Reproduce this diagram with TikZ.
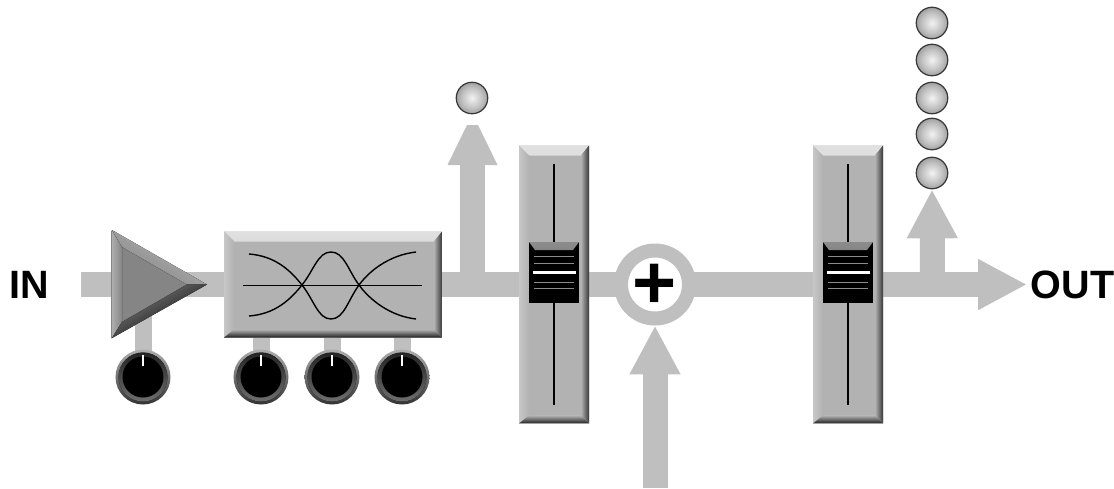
\documentclass[tikz,border=0pt]{standalone}
\usepackage{fontspec}
\setmainfont{Liberation Sans}
\usetikzlibrary{positioning, arrows.meta, shapes.geometric, backgrounds, calc}
\definecolor{barcol}{HTML}{BFBFBF}
\definecolor{panelcol}{HTML}{B2B2B2}
\pgfdeclareradialshading{ledball}{\pgfpoint{0bp}{0bp}}{color(0bp)=(white!95!black); color(17bp)=(white!75!black); color(35bp)=(white!48!black); color(50bp)=(white!48!black)}

\begin{document}
\begin{tikzpicture}[
    x=0.02cm, y=-0.02cm,
    sigbar/.style={draw=barcol, line width=0.5cm},
    sigarrow/.style={sigbar, -{Triangle[length=0.98cm, width=0.95cm]}},
    stembar/.style={draw=barcol, line width=0.34cm},
    panel/.style={
        rectangle,
        fill=panelcol,
        inner sep=0pt,
        path picture={
            \fill[top color=white!88!black, bottom color=panelcol]
                (path picture bounding box.north west) -- (path picture bounding box.north east)
                -- ([xshift=-0.16cm, yshift=-0.2cm]path picture bounding box.north east)
                -- ([xshift=0.2cm, yshift=-0.2cm]path picture bounding box.north west) -- cycle;
            \fill[left color=white!78!black, right color=panelcol]
                (path picture bounding box.north west) -- (path picture bounding box.south west)
                -- ([xshift=0.2cm, yshift=0.16cm]path picture bounding box.south west)
                -- ([xshift=0.2cm, yshift=-0.2cm]path picture bounding box.north west) -- cycle;
            \fill[left color=panelcol, right color=white!22!black]
                (path picture bounding box.north east) -- (path picture bounding box.south east)
                -- ([xshift=-0.16cm, yshift=0.16cm]path picture bounding box.south east)
                -- ([xshift=-0.16cm, yshift=-0.2cm]path picture bounding box.north east) -- cycle;
            \fill[top color=panelcol, bottom color=white!12!black]
                (path picture bounding box.south west) -- (path picture bounding box.south east)
                -- ([xshift=-0.16cm, yshift=0.16cm]path picture bounding box.south east)
                -- ([xshift=0.2cm, yshift=0.16cm]path picture bounding box.south west) -- cycle;
        }
    },
    filterbox/.style={panel, minimum width=4.36cm, minimum height=2.12cm},
    fader/.style={panel, minimum width=1.4cm, minimum height=5.56cm},
    faderslot/.style={line width=0.9pt, black},
    fadercap/.style={
        rectangle,
        fill=black,
        inner sep=0pt,
        minimum width=1cm,
        minimum height=1.22cm,
        path picture={
            \fill[top color=white!55!black, bottom color=white!35!black]
                (path picture bounding box.north west) -- (path picture bounding box.north east)
                -- ([xshift=-0.12cm, yshift=-0.16cm]path picture bounding box.north east)
                -- ([xshift=0.12cm, yshift=-0.16cm]path picture bounding box.north west) -- cycle;
            \foreach \offs in {-0.31, -0.19, 0.19, 0.33}
                \draw[white!55!black, line width=0.5pt]
                    ([xshift=-0.4cm, yshift=\offs cm]path picture bounding box.center) -- ++(0.8cm, 0);
            \draw[white, line width=1.2pt]
                ([xshift=-0.43cm]path picture bounding box.center) -- ++(0.86cm, 0);
        }
    },
    knob/.style={
        circle,
        inner sep=0pt,
        minimum size=1.1cm,
        top color=white!68!black,
        bottom color=white!20!black,
        path picture={
            \fill[top color=white!12!black, bottom color=white!45!black]
                (path picture bounding box.center) circle (0.49cm);
            \fill[black] (path picture bounding box.center) circle (0.41cm);
            \draw[white, line width=1.1pt]
                ([yshift=0.44cm]path picture bounding box.center) -- ++(0, -0.21cm);
        }
    },
    led/.style={
        circle,
        draw=white!22!black,
        line width=0.7pt,
        shading=ledball,
        inner sep=0pt,
        minimum size=0.63cm
    },
    adder/.style={
        circle,
        draw=barcol,
        fill=white,
        line width=0.28cm,
        minimum size=1.36cm,
        inner sep=0pt
    },
    eqcurve/.style={line width=0.8pt, black},
    portlabel/.style={font=\fontsize{22.5}{24}\selectfont\bfseries, inner xsep=2pt}
]

\useasboundingbox (0,0) rectangle (1114,488);

\node[portlabel] (inlabel) at (29, 285) {IN};
\node[portlabel, anchor=west] (outlabel) at (1027, 284.5) {OUT};
\coordinate (inend) at (81, 284.5);
\coordinate (tapsend) at (472.5, 284.5);
\coordinate (sendbase) at (472.5, 165);
\coordinate (tapmeter) at (932.5, 284.5);
\coordinate (mixfeed) at (655, 488);

% input amplifier
\node[isosceles triangle, isosceles triangle stretches, fill=white!52!black, inner sep=0pt,
      minimum height=1.9cm, minimum width=2.16cm, anchor=apex] (amp) at (207, 284.5) {};
\fill[left color=white!68!black, right color=white!52!black]
    (112,230) -- (122,247) -- (122,322) -- (112,338) -- cycle;
\fill[top color=white!72!black, bottom color=white!52!black, shading angle=-30]
    (112,230) -- (207,284.5) -- (187,284.5) -- (122,247) -- cycle;
\fill[top color=white!52!black, bottom color=black, shading angle=30]
    (112,338) -- (207,284.5) -- (187,284.5) -- (122,322) -- cycle;

\node[filterbox] (filter) at (333, 284.5) {};
\draw[eqcurve, line width=0.5pt] (243, 285) -- (422, 285);
\draw[eqcurve] (249,254) .. controls (275,256) and (290,270) .. (302,285)
    .. controls (314,300) and (318,319) .. (331,319)
    .. controls (344,319) and (348,300) .. (359,285)
    .. controls (370,270) and (390,255) .. (416,252);
\draw[eqcurve] (249,316) .. controls (275,314) and (290,300) .. (302,285)
    .. controls (314,270) and (318,252) .. (331,252)
    .. controls (344,252) and (348,270) .. (359,285)
    .. controls (370,300) and (390,316) .. (416,319);

\node[knob] (knobamp) at (143, 377) {};
\node[knob] (knoblow) at (261, 377) {};
\node[knob] (knobmid) at (332, 377) {};
\node[knob] (knobhigh) at (402, 377) {};

\node[fader] (faderone) at (554, 284.5) {};
\draw[faderslot] ([yshift=-0.37cm]faderone.north) -- ([yshift=0.37cm]faderone.south);
\node[fadercap] (capone) at (554, 272.5) {};
\node[fader] (fadertwo) at (848, 284.5) {};
\draw[faderslot] ([yshift=-0.37cm]fadertwo.north) -- ([yshift=0.37cm]fadertwo.south);
\node[fadercap] (captwo) at (848, 272.5) {};

\node[adder] (mixer) at (655, 284.5) {\fontsize{43}{43}\selectfont\bfseries\raisebox{-0.03cm}[\height][\depth]{+}};

\node[led] (ledsend) at (472, 98) {};
\node[led] (ledone)   at (932, 173) {};
\node[led] (ledtwo)   at (932, 134) {};
\node[led] (ledthree) at (932, 98) {};
\node[led] (ledfour)  at (932, 60) {};
\node[led] (ledfive)  at (932, 23) {};

\begin{scope}[on background layer]
\draw[sigbar] (inend) -- (amp.center);
\draw[sigbar] (amp.center) -- (filter.center);
\draw[sigbar] (filter.center) -- (faderone.center);
\draw[sigbar] (faderone.center) -- (mixer.center);
\draw[sigbar] (mixer.center) -- (fadertwo.center);
\draw[sigarrow] (fadertwo.center) -- (outlabel.west);
\draw[sigbar] (tapsend) -- (sendbase);
\fill[barcol] (447.5,165) -- (467,125) -- (478,125) -- (497.5,165) -- cycle;
\draw[sigarrow] (tapmeter) -- (ledone.south);
\draw[sigarrow] (mixfeed) -- (mixer.south);
\draw[stembar] (knobamp.center) -- (knobamp |- amp.center);
\draw[stembar] (knoblow.center) -- (knoblow |- filter.center);
\draw[stembar] (knobmid.center) -- (knobmid |- filter.center);
\draw[stembar] (knobhigh.center) -- (knobhigh |- filter.center);
\end{scope}

\end{tikzpicture}
\end{document}
